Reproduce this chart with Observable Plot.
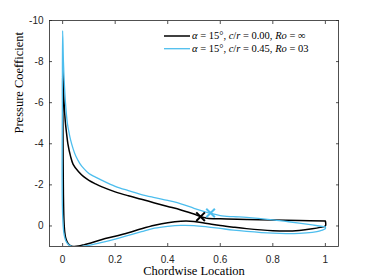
<!DOCTYPE html>
<html><head><meta charset="utf-8">
<script src="https://cdn.jsdelivr.net/npm/d3@7"></script>
<script src="https://cdn.jsdelivr.net/npm/@observablehq/plot@0.6"></script>
<style>body{margin:0;background:#fff}#chart{width:374px;height:280px}</style>
</head><body><div id="chart"></div>
<script>
const xTicks = [0, 0.2, 0.4, 0.6, 0.8, 1];
const yTicks = [-10, -8, -6, -4, -2, 0];
const xLabel = "Chordwise Location";
const yLabel = "Pressure Coefficient";
const seriesNames = ["α = 15°, c/r = 0.00, Ro = ∞", "α = 15°, c/r = 0.45, Ro = 03"];
const seriesColors = ["#000000", "#4DBEEE"];

// Series 1 (c/r = 0.00): upper (suction) and lower surfaces
const blackUpperX  = [0, 0.003, 0.006, 0.01, 0.015, 0.02, 0.03, 0.04, 0.06, 0.08, 0.1, 0.125, 0.15, 0.2, 0.25, 0.3, 0.35, 0.4, 0.45, 0.5, 0.525, 0.55, 0.6, 0.7, 0.8, 0.9, 1.0];
const blackUpperCp = [-7.8, -6.8, -5.9, -5.1, -4.5, -4.0, -3.4, -3.0, -2.65, -2.4, -2.22, -2.05, -1.9, -1.66, -1.47, -1.3, -1.12, -0.95, -0.78, -0.58, -0.45, -0.38, -0.35, -0.32, -0.29, -0.26, -0.24];
const blackLowerX  = [0, 0.001, 0.002, 0.003, 0.005, 0.008, 0.012, 0.018, 0.025, 0.035, 0.045, 0.06, 0.08, 0.1, 0.15, 0.2, 0.25, 0.3, 0.35, 0.4, 0.45, 0.5, 0.55, 0.6, 0.65, 0.7, 0.8, 0.85, 0.9, 0.95, 0.98, 1.0];
const blackLowerCp = [-7.8, -5.0, -3.0, -1.5, -0.3, 0.3, 0.6, 0.8, 0.92, 0.99, 1.0, 0.98, 0.92, 0.85, 0.66, 0.5, 0.33, 0.14, -0.03, -0.16, -0.23, -0.22, -0.12, -0.02, 0.06, 0.13, 0.23, 0.25, 0.22, 0.14, 0.07, 0.0];

// Series 2 (c/r = 0.45)
const blueUpperX  = [0, 0.003, 0.007, 0.012, 0.018, 0.025, 0.03, 0.04, 0.05, 0.065, 0.08, 0.1, 0.125, 0.15, 0.2, 0.25, 0.3, 0.35, 0.4, 0.45, 0.5, 0.54, 0.563, 0.6, 0.65, 0.7, 0.8, 0.85, 0.9, 0.95, 1.0];
const blueUpperCp = [-9.5, -8.0, -6.8, -5.8, -5.0, -4.5, -4.2, -3.75, -3.4, -3.05, -2.8, -2.55, -2.38, -2.22, -1.93, -1.72, -1.53, -1.38, -1.24, -1.08, -0.86, -0.7, -0.62, -0.5, -0.45, -0.42, -0.3, -0.22, -0.14, -0.05, 0.05];
const blueLowerX  = [0, -0.001, -0.002, -0.001, 0.002, 0.006, 0.012, 0.02, 0.03, 0.045, 0.06, 0.08, 0.1, 0.15, 0.2, 0.25, 0.3, 0.35, 0.4, 0.45, 0.5, 0.55, 0.6, 0.65, 0.7, 0.8, 0.85, 0.9, 0.95, 0.98, 1.0];
const blueLowerCp = [-9.5, -6.0, -3.0, -1.0, 0.0, 0.45, 0.72, 0.88, 0.97, 1.02, 1.02, 0.98, 0.94, 0.8, 0.64, 0.46, 0.28, 0.11, 0.02, -0.03, -0.02, 0.04, 0.12, 0.2, 0.26, 0.35, 0.37, 0.36, 0.31, 0.24, 0.13];

// Separation markers
const markerX  = [0.525, 0.563];
const markerCp = [-0.45, -0.63];

function loop(name, ux, ucp, lx, lcp) {
  const rows = [];
  for (let i = ux.length - 1; i >= 0; i--) rows.push({series: name, x: ux[i], cp: ucp[i]});
  for (let i = 1; i < lx.length; i++) rows.push({series: name, x: lx[i], cp: lcp[i]});
  rows.push({series: name, x: ux[ux.length - 1], cp: ucp[ucp.length - 1]});
  return rows;
}
const curves = [
  ...loop(seriesNames[0], blackUpperX, blackUpperCp, blackLowerX, blackLowerCp),
  ...loop(seriesNames[1], blueUpperX, blueUpperCp, blueLowerX, blueLowerCp)
];
const markers = seriesNames.map((s, i) => ({series: s, x: markerX[i], cp: markerCp[i]}));

const axisColor = "#262626";
const fmt = d => String(d);
const serif = "'Liberation Serif', 'Times New Roman', serif";

const plot = Plot.plot({
  width: 374, height: 280,
  marginLeft: 49, marginRight: 36, marginTop: 20, marginBottom: 34,
  style: {fontFamily: "'Liberation Sans', Arial, sans-serif", fontSize: "10px", color: axisColor, background: "#fff"},
  x: {domain: [-0.05, 1.05]},
  y: {domain: [1, -10]},
  color: {domain: seriesNames, range: seriesColors},
  marks: [
    Plot.line(curves, {x: "x", y: "cp", z: "series", stroke: "series", strokeWidth: d => d.series === seriesNames[0] ? 1.5 : 1.3, curve: "catmull-rom", clip: true}),
    Plot.dot(markers, {x: "x", y: "cp", stroke: "series", symbol: "times", r: 4, strokeWidth: 2}),
    Plot.frame({stroke: axisColor, strokeWidth: 0.8}),
    // labels
    Plot.axisX(xTicks, {anchor: "bottom", tickSize: 0, tickPadding: 9, tickFormat: fmt, label: null, fill: axisColor}),
    Plot.axisY(yTicks, {anchor: "left", tickSize: 0, tickPadding: 6, tickFormat: fmt, label: null, fill: axisColor}),
    // inward ticks on all four sides
    Plot.axisX(xTicks, {anchor: "bottom", tickSize: 3, dy: -3, text: null, label: null, stroke: axisColor, strokeWidth: 0.8}),
    Plot.axisX(xTicks, {anchor: "top", tickSize: 3, dy: 3, text: null, label: null, stroke: axisColor, strokeWidth: 0.8}),
    Plot.axisY(yTicks, {anchor: "left", tickSize: 3, dx: 3, text: null, label: null, stroke: axisColor, strokeWidth: 0.8}),
    Plot.axisY(yTicks, {anchor: "right", tickSize: 3, dx: -3, text: null, label: null, stroke: axisColor, strokeWidth: 0.8}),
    Plot.text([xLabel], {frameAnchor: "bottom", dy: 28, text: d => d, fontFamily: serif, fontSize: 12.5, fill: "#000"}),
    Plot.text([yLabel], {frameAnchor: "left", dx: -31, rotate: -90, text: d => d, fontFamily: serif, fontSize: 12.5, fill: "#000"})
  ]
});
document.getElementById("chart").appendChild(plot);

// Legend (inside the plot, top right)
const svg = d3.select(plot);
const leg = svg.append("g").attr("font-family", serif).attr("font-size", 10.5).attr("text-anchor", "start");
seriesNames.forEach((name, i) => {
  const y = 36 + i * 12.7;
  leg.append("line").attr("x1", 164).attr("x2", 190).attr("y1", y).attr("y2", y)
    .attr("stroke", seriesColors[i]).attr("stroke-width", i === 0 ? 1.5 : 1.3);
  const t = leg.append("text").attr("x", 192).attr("y", y).attr("dy", "0.32em").attr("fill", "#000");
  name.split(/(α|Ro|\bc\b|\br\b)/).filter(s => s.length).forEach(s => {
    const italic = /^(α|Ro|c|r)$/.test(s);
    t.append("tspan").attr("font-style", italic ? "italic" : "normal").text(s);
  });
});
</script>
</body></html>
